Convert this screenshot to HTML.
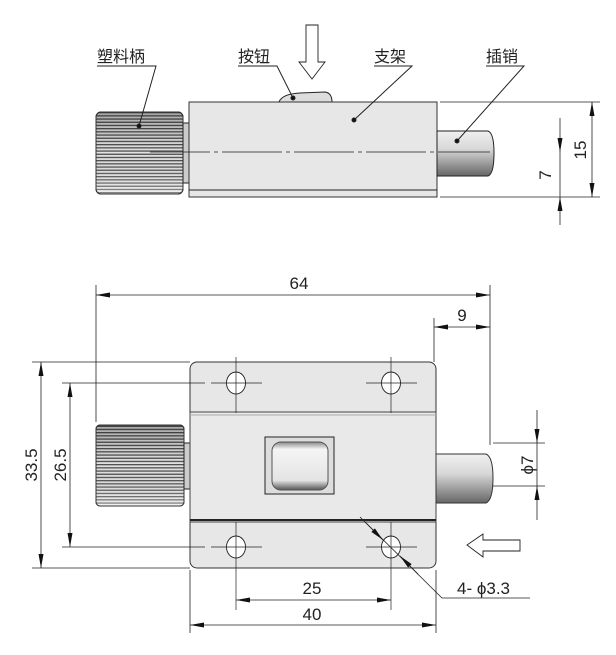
<!DOCTYPE html>
<html><head><meta charset="utf-8"><style>
html,body{margin:0;padding:0;background:#fff;}
svg{display:block;}
text{font-family:"Liberation Sans","Noto Sans CJK SC",sans-serif;fill:#222;}
</style></head><body>
<svg width="616" height="655" viewBox="0 0 616 655" xmlns="http://www.w3.org/2000/svg">
<defs>
<pattern id="kn" width="4" height="3.2" patternUnits="userSpaceOnUse"><rect width="4" height="3.2" fill="#eee"/><rect width="4" height="1.3" fill="#555"/></pattern>
<linearGradient id="kg" x1="0" y1="0" x2="0" y2="1"><stop offset="0" stop-color="#000" stop-opacity="0.3"/><stop offset="0.5" stop-color="#000" stop-opacity="0.05"/><stop offset="1" stop-color="#fff" stop-opacity="0.3"/></linearGradient>
<linearGradient id="pg" x1="0" y1="0" x2="0" y2="1"><stop offset="0" stop-color="#f0f0f0"/><stop offset="0.4" stop-color="#d8d8d8"/><stop offset="1" stop-color="#666"/></linearGradient>
<linearGradient id="bg" x1="0" y1="0" x2="0" y2="1"><stop offset="0" stop-color="#888"/><stop offset="0.15" stop-color="#f5f5f5"/><stop offset="0.8" stop-color="#e4e4e4"/><stop offset="1" stop-color="#555"/></linearGradient>
<marker id="a" markerWidth="14" markerHeight="6" refX="14" refY="3" orient="auto-start-reverse" markerUnits="userSpaceOnUse"><path d="M0,0.5 L14,3 L0,5.5Z" fill="#111"/></marker>
</defs>
<g stroke="#222" stroke-width="1" fill="none">
<!-- TOP VIEW -->
<rect x="96" y="112" width="87" height="82" rx="5" fill="url(#kn)"/>
<rect x="96" y="112" width="87" height="82" rx="5" fill="url(#kg)" stroke="#333"/>
<rect x="183" y="123" width="7" height="60" fill="#ccc"/>
<path d="M279,102 Q282,94 300,93 L325,92 Q332,93 332,102" fill="#ddd"/>
<rect x="189" y="102" width="248" height="95" fill="#e7e7e7" stroke="#333"/>
<line x1="189" y1="190" x2="437" y2="190"/>
<path d="M437,131 L488,131 Q494,133 494,153 Q494,174 488,176 L437,176Z" fill="url(#pg)"/>
<line x1="150" y1="152" x2="490" y2="152" stroke-dasharray="60,4,4,4" stroke-width="0.8"/>
<path d="M306,25 L318,25 L318,62 L325,62 L312,79 L299,62 L306,62Z" fill="#fff" stroke-width="0.9"/>
<path d="M97,66 L156,66 L139,126" /><circle cx="139" cy="126" r="2" fill="#111"/>
<path d="M238,66 L277,66 L293,98"/><circle cx="293" cy="98" r="2" fill="#111"/>
<path d="M374,66 L412,66 L354,120"/><circle cx="354" cy="120" r="2" fill="#111"/>
<path d="M486,66 L524,66 L457,141"/><circle cx="457" cy="141" r="2" fill="#111"/>
<line x1="440" y1="102" x2="600" y2="102" stroke-width="0.8"/>
<line x1="440" y1="197" x2="600" y2="197" stroke-width="0.8"/>
<line x1="592" y1="102" x2="592" y2="197" marker-start="url(#a)" marker-end="url(#a)" stroke-width="0.8"/>
<line x1="560" y1="118" x2="560" y2="152" marker-end="url(#a)" stroke-width="0.8"/>
<line x1="560" y1="225" x2="560" y2="197" marker-end="url(#a)" stroke-width="0.8"/>
<line x1="560" y1="152" x2="560" y2="197" stroke-width="0.8"/>
<!-- BOTTOM VIEW -->
<line x1="96" y1="285" x2="96" y2="422" stroke-width="0.8"/>
<line x1="490" y1="285" x2="490" y2="445" stroke-width="0.8"/>
<line x1="434" y1="318" x2="434" y2="362" stroke-width="0.8"/>
<line x1="96" y1="295" x2="490" y2="295" marker-start="url(#a)" marker-end="url(#a)" stroke-width="0.8"/>
<line x1="434" y1="327" x2="490" y2="327" marker-start="url(#a)" marker-end="url(#a)" stroke-width="0.8"/>
<rect x="96" y="425" width="88" height="81" rx="4" fill="url(#kn)"/>
<rect x="96" y="425" width="88" height="81" rx="4" fill="url(#kg)" stroke="#333"/>
<rect x="184" y="443" width="7" height="46" fill="#ccc"/>
<rect x="190" y="362" width="246" height="206" rx="7" fill="#e7e7e7" stroke="#333"/>
<rect x="190" y="412" width="246" height="110" fill="#e9e9e9" stroke="#444"/>
<line x1="190" y1="415" x2="436" y2="415" stroke="#aaa"/>
<line x1="190" y1="520" x2="436" y2="520" stroke-width="2"/>
<rect x="265" y="437" width="69" height="57" fill="#ddd"/>
<rect x="272" y="442" width="56" height="48" rx="9" fill="url(#bg)" stroke="#555"/>
<path d="M436,454 L486,454 Q493,457 493,478 Q493,500 486,503 L436,503Z" fill="url(#pg)" stroke="#333"/>
<g stroke-width="0.9">
<ellipse cx="236" cy="383" rx="9.5" ry="11" fill="#fff"/><ellipse cx="391" cy="383" rx="9.5" ry="11" fill="#fff"/>
<ellipse cx="236" cy="547" rx="9.5" ry="11" fill="#fff"/><ellipse cx="391" cy="547" rx="9.5" ry="11" fill="#fff"/>
</g>
<g stroke-width="0.7">
<line x1="236" y1="357" x2="236" y2="413"/><line x1="391" y1="357" x2="391" y2="413"/>
<line x1="211" y1="383" x2="262" y2="383"/><line x1="366" y1="383" x2="417" y2="383"/>
<line x1="236" y1="522" x2="236" y2="610"/><line x1="391" y1="522" x2="391" y2="610"/>
<line x1="211" y1="547" x2="262" y2="547"/><line x1="366" y1="547" x2="417" y2="547"/>
</g>
<line x1="32" y1="362" x2="190" y2="362" stroke-width="0.8"/>
<line x1="32" y1="568" x2="190" y2="568" stroke-width="0.8"/>
<line x1="62" y1="383" x2="205" y2="383" stroke-width="0.8"/>
<line x1="62" y1="547" x2="205" y2="547" stroke-width="0.8"/>
<line x1="41" y1="362" x2="41" y2="568" marker-start="url(#a)" marker-end="url(#a)" stroke-width="0.8"/>
<line x1="70" y1="383" x2="70" y2="547" marker-start="url(#a)" marker-end="url(#a)" stroke-width="0.8"/>
<line x1="190" y1="570" x2="190" y2="633" stroke-width="0.8"/>
<line x1="436" y1="570" x2="436" y2="633" stroke-width="0.8"/>
<line x1="236" y1="600" x2="391" y2="600" marker-start="url(#a)" marker-end="url(#a)" stroke-width="0.8"/>
<line x1="190" y1="625" x2="436" y2="625" marker-start="url(#a)" marker-end="url(#a)" stroke-width="0.8"/>
<line x1="493" y1="443" x2="545" y2="443" stroke-width="0.8"/>
<line x1="493" y1="486" x2="545" y2="486" stroke-width="0.8"/>
<line x1="537" y1="410" x2="537" y2="443" marker-end="url(#a)" stroke-width="0.8"/>
<line x1="537" y1="520" x2="537" y2="486" marker-end="url(#a)" stroke-width="0.8"/>
<line x1="537" y1="443" x2="537" y2="486" stroke-width="0.8"/>
<path d="M360,517 L442,598 L530,598" stroke-width="0.8"/>
<line x1="365" y1="522" x2="383" y2="540" marker-end="url(#a)" stroke-width="0.8"/>
<line x1="418" y1="574" x2="400" y2="556" marker-end="url(#a)" stroke-width="0.8"/>
<path d="M520,540 L483,540 L483,534 L467,545 L483,557 L483,551 L520,551Z" fill="#fff" stroke-width="0.9"/>
</g>
<g font-size="16">
<text x="97" y="62">塑料柄</text>
<text x="238" y="62">按钮</text>
<text x="374" y="62">支架</text>
<text x="486" y="62">插销</text>
</g>
<g font-size="17">
<text x="586" y="150" transform="rotate(-90 586 150)" text-anchor="middle">15</text>
<text x="551" y="175" transform="rotate(-90 551 175)" text-anchor="middle">7</text>
<text x="299" y="289" text-anchor="middle">64</text>
<text x="462" y="321" text-anchor="middle">9</text>
<text x="37" y="465" transform="rotate(-90 37 465)" text-anchor="middle">33.5</text>
<text x="66" y="465" transform="rotate(-90 66 465)" text-anchor="middle">26.5</text>
<text x="312" y="594" text-anchor="middle">25</text>
<text x="312" y="620" text-anchor="middle">40</text>
<text x="533" y="465" transform="rotate(-90 533 465)" text-anchor="middle">ϕ7</text>
<text x="457" y="594">4- ϕ3.3</text>
</g>
</svg>
</body></html>
